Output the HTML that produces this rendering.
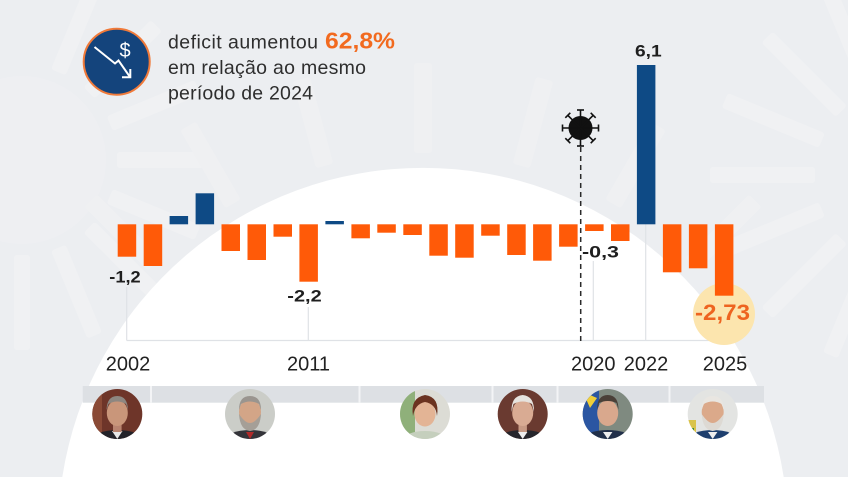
<!DOCTYPE html>
<html><head><meta charset="utf-8">
<style>
html,body{margin:0;padding:0;background:#eceef1;}
body{width:848px;height:477px;overflow:hidden;}
svg{display:block;overflow:hidden;}
text{font-family:"Liberation Sans",sans-serif;}
</style></head>
<body>
<svg width="848" height="477" viewBox="0 0 848 477" xmlns="http://www.w3.org/2000/svg">
<defs>
<clipPath id="c1"><circle cx="117.3" cy="414" r="25"/></clipPath>
<clipPath id="c2"><circle cx="250" cy="414" r="25"/></clipPath>
<clipPath id="c3"><circle cx="425" cy="414" r="25"/></clipPath>
<clipPath id="c4"><circle cx="522.7" cy="414" r="25"/></clipPath>
<clipPath id="c5"><circle cx="607.7" cy="414" r="25"/></clipPath>
<clipPath id="c6"><circle cx="712.7" cy="414" r="25"/></clipPath>
</defs>
<rect x="0" y="0" width="848" height="477" fill="#eceef1"/>

<!-- left sun -->
<g fill="#f0f1f3">
<circle cx="22" cy="160" r="84" fill="#eeeff2"/>
<g transform="translate(22 160)">
<rect x="95" y="-8" width="95" height="16" rx="3" transform="rotate(0)"/>
<rect x="95" y="-8" width="95" height="16" rx="3" transform="rotate(22.5)"/>
<rect x="95" y="-8" width="95" height="16" rx="3" transform="rotate(45)"/>
<rect x="95" y="-8" width="95" height="16" rx="3" transform="rotate(67.5)"/>
<rect x="95" y="-8" width="95" height="16" rx="3" transform="rotate(90)"/>
<rect x="95" y="-8" width="95" height="16" rx="3" transform="rotate(112.5)"/>
<rect x="95" y="-8" width="95" height="16" rx="3" transform="rotate(-22.5)"/>
<rect x="95" y="-8" width="95" height="16" rx="3" transform="rotate(-45)"/>
<rect x="95" y="-8" width="95" height="16" rx="3" transform="rotate(-67.5)"/>
</g>
</g>
<!-- right sun -->
<g fill="#f0f1f3" transform="translate(905 175)">
<rect x="90" y="-8" width="105" height="16" rx="3" transform="rotate(180)"/>
<rect x="90" y="-8" width="105" height="16" rx="3" transform="rotate(157.5)"/>
<rect x="90" y="-8" width="105" height="16" rx="3" transform="rotate(135)"/>
<rect x="90" y="-8" width="105" height="16" rx="3" transform="rotate(112.5)"/>
<rect x="90" y="-8" width="105" height="16" rx="3" transform="rotate(202.5)"/>
<rect x="90" y="-8" width="105" height="16" rx="3" transform="rotate(225)"/>
<rect x="90" y="-8" width="105" height="16" rx="3" transform="rotate(247.5)"/>
</g>
<!-- big sun rays -->
<g fill="#eff0f2" transform="translate(423 533)">
<rect x="380" y="-9" width="90" height="18" rx="3" transform="rotate(-90)"/>
<rect x="380" y="-9" width="90" height="18" rx="3" transform="rotate(-75)"/>
<rect x="380" y="-9" width="90" height="18" rx="3" transform="rotate(-105)"/>
<rect x="380" y="-9" width="90" height="18" rx="3" transform="rotate(-60)"/>
<rect x="380" y="-9" width="90" height="18" rx="3" transform="rotate(-120)"/>
<rect x="380" y="-9" width="90" height="18" rx="3" transform="rotate(-45)"/>
<rect x="380" y="-9" width="90" height="18" rx="3" transform="rotate(-135)"/>
</g>

<!-- white semicircle (clipped to frame) -->
<path d="M62.3 477 A365 365 0 0 1 783.7 477 Z" fill="#ffffff"/>

<!-- header icon -->
<circle cx="116.7" cy="61.7" r="33" fill="#14447c" stroke="#f07a3a" stroke-width="2"/>
<text x="125" y="57" font-size="20" fill="#ffffff" text-anchor="middle">$</text>
<polyline points="94.5,47 115,63.5 118.5,60.5 130,77" fill="none" stroke="#ffffff" stroke-width="2" stroke-linejoin="miter"/>
<polyline points="122,77.3 130.3,77.3 130.3,69" fill="none" stroke="#ffffff" stroke-width="2"/>

<!-- header text -->
<text x="168" y="48.3" font-size="19.5" fill="#2e2e2e" textLength="150" lengthAdjust="spacing">deficit aumentou</text>
<text x="325" y="48.3" font-size="23" font-weight="bold" fill="#f26a1f" textLength="70" lengthAdjust="spacingAndGlyphs">62,8%</text>
<text x="168" y="73.8" font-size="19.5" fill="#2e2e2e" textLength="198" lengthAdjust="spacing">em relação ao mesmo</text>
<text x="168" y="99.5" font-size="19.5" fill="#2e2e2e" textLength="145" lengthAdjust="spacing">período de 2024</text>

<!-- grid lines -->
<g stroke="#dfe2e6" stroke-width="1.2" fill="none">
<line x1="126.7" y1="287" x2="126.7" y2="340.5"/>
<line x1="308.3" y1="307" x2="308.3" y2="340.5"/>
<line x1="593.3" y1="261" x2="593.3" y2="340.5"/>
<line x1="645.7" y1="224" x2="645.7" y2="340.5"/>
<line x1="126.7" y1="340.5" x2="724" y2="340.5"/>
</g>

<!-- yellow highlight -->
<circle cx="724" cy="314" r="31" fill="#fce5ae"/>

<!-- bars -->
<g fill="#ff5a08">
<rect x="117.7" y="224.3" width="18.5" height="32.4"/>
<rect x="143.7" y="224.3" width="18.5" height="41.7"/>
<rect x="221.5" y="224.3" width="18.5" height="26.7"/>
<rect x="247.5" y="224.3" width="18.5" height="35.7"/>
<rect x="273.5" y="224.3" width="18.5" height="12.4"/>
<rect x="299.4" y="224.3" width="18.5" height="57.4"/>
<rect x="351.4" y="224.3" width="18.5" height="14"/>
<rect x="377.3" y="224.3" width="18.5" height="8.4"/>
<rect x="403.3" y="224.3" width="18.5" height="10.7"/>
<rect x="429.3" y="224.3" width="18.5" height="31.4"/>
<rect x="455.2" y="224.3" width="18.5" height="33.4"/>
<rect x="481.2" y="224.3" width="18.5" height="11.4"/>
<rect x="507.2" y="224.3" width="18.5" height="30.7"/>
<rect x="533.1" y="224.3" width="18.5" height="36.4"/>
<rect x="559.1" y="224.3" width="18.5" height="22.4"/>
<rect x="585.1" y="224.3" width="18.5" height="6.7"/>
<rect x="611.0" y="224.3" width="18.5" height="16.7"/>
<rect x="662.9" y="224.3" width="18.5" height="48"/>
<rect x="688.9" y="224.3" width="18.5" height="44"/>
<rect x="714.9" y="224.3" width="18.5" height="71.4"/>
</g>
<g fill="#0e4a85">
<rect x="169.6" y="216" width="18.5" height="8.3"/>
<rect x="195.6" y="193.3" width="18.5" height="31"/>
<rect x="325.4" y="221" width="18.5" height="3.3"/>
<rect x="636.9" y="65" width="18.5" height="159.3"/>
</g>

<!-- dashed covid line -->
<line x1="580.7" y1="147" x2="580.7" y2="342" stroke="#2a2a2a" stroke-width="1.5" stroke-dasharray="5 4"/>
<!-- virus -->
<g fill="#111" stroke="#111">
<circle cx="580.5" cy="128" r="12" stroke="none"/>
<g stroke-width="1.6">
<line x1="580.5" y1="128" x2="580.5" y2="110"/><line x1="577" y1="110" x2="584" y2="110"/>
<line x1="580.5" y1="128" x2="580.5" y2="146"/><line x1="577" y1="146" x2="584" y2="146"/>
<line x1="580.5" y1="128" x2="562.5" y2="128"/><line x1="562.5" y1="124.5" x2="562.5" y2="131.5"/>
<line x1="580.5" y1="128" x2="598.5" y2="128"/><line x1="598.5" y1="124.5" x2="598.5" y2="131.5"/>
<line x1="580.5" y1="128" x2="567.8" y2="115.3"/><line x1="565.3" y1="117.8" x2="570.3" y2="112.8"/>
<line x1="580.5" y1="128" x2="593.2" y2="115.3"/><line x1="590.7" y1="112.8" x2="595.7" y2="117.8"/>
<line x1="580.5" y1="128" x2="567.8" y2="140.7"/><line x1="565.3" y1="138.2" x2="570.3" y2="143.2"/>
<line x1="580.5" y1="128" x2="593.2" y2="140.7"/><line x1="590.7" y1="143.2" x2="595.7" y2="138.2"/>
</g>
</g>

<!-- value labels -->
<g font-weight="bold" fill="#1f1f1f">
<text x="109.3" y="282.5" font-size="16.5" textLength="31.4" lengthAdjust="spacingAndGlyphs">-1,2</text>
<text x="287.3" y="301.7" font-size="16.5" textLength="34.4" lengthAdjust="spacingAndGlyphs">-2,2</text>
<text x="582" y="257.5" font-size="16.5" textLength="37" lengthAdjust="spacingAndGlyphs">-0,3</text>
<text x="635" y="56.7" font-size="16.5" textLength="26.7" lengthAdjust="spacingAndGlyphs">6,1</text>
</g>
<text x="695" y="320" font-size="22" font-weight="bold" fill="#ee6420" textLength="55" lengthAdjust="spacingAndGlyphs">-2,73</text>

<!-- year labels -->
<g font-size="20" fill="#222" text-anchor="middle">
<text x="128" y="370.5">2002</text>
<text x="308.5" y="370.5">2011</text>
<text x="593.3" y="370.5">2020</text>
<text x="646" y="370.5">2022</text>
<text x="725" y="370.5">2025</text>
</g>

<!-- timeline band -->
<rect x="82.7" y="386" width="681.3" height="16.7" fill="#dde0e4"/>
<g fill="#f3f4f6">
<rect x="150" y="386" width="2" height="16.7"/>
<rect x="358.5" y="386" width="2" height="16.7"/>
<rect x="491.5" y="386" width="2" height="16.7"/>
<rect x="556.5" y="386" width="2" height="16.7"/>
<rect x="668.5" y="386" width="2" height="16.7"/>
</g>

<!-- faces -->
<g clip-path="url(#c1)">
<rect x="92" y="389" width="51" height="50" fill="#6e3529"/>
<rect x="92" y="389" width="10" height="50" fill="#8a4a36"/>
<ellipse cx="117.3" cy="440" rx="25" ry="10" fill="#23232a"/>
<path d="M112 431 L117.3 439 L122.5 431 Z" fill="#e8e8e8"/>
<rect x="113" y="424" width="8.6" height="8" fill="#b98470"/>
<ellipse cx="117.3" cy="413" rx="10.5" ry="13" fill="#c9967a"/>
<path d="M106.5 410 Q107 396 117.3 396 Q127.5 396 128 410 L126 404 Q117 399 108.5 404 Z" fill="#8d8781"/>
</g>
<g clip-path="url(#c2)">
<rect x="225" y="389" width="50" height="50" fill="#cbcdc8"/>
<ellipse cx="250" cy="440" rx="25" ry="10" fill="#34343a"/>
<path d="M246 432 L250 439 L254 432 Z" fill="#b02a2a"/>
<ellipse cx="250" cy="412" rx="11" ry="13" fill="#d3a587"/>
<path d="M239 414 Q240 430 250 431 Q260 430 261 414 Q255 423 250 423 Q245 423 239 414 Z" fill="#a59f97"/>
<path d="M239 410 Q239 396 250 396 Q261 396 261 410 L259 404 Q250 399 241 404 Z" fill="#9a958f"/>
<rect x="225" y="430" width="6" height="9" fill="#3e8a3c"/>
</g>
<g clip-path="url(#c3)">
<rect x="400" y="389" width="50" height="50" fill="#dcdcd5"/>
<rect x="400" y="389" width="15" height="50" fill="#8fb07a"/>
<ellipse cx="425" cy="440" rx="22" ry="9" fill="#c5cfbd"/>
<ellipse cx="425" cy="414" rx="10.5" ry="12.5" fill="#e3b495"/>
<path d="M413 416 Q410 398 425 395 Q440 397 437 416 Q436 404 425 402 Q415 404 413 416 Z" fill="#6b3320"/>
</g>
<g clip-path="url(#c4)">
<rect x="497" y="389" width="51" height="50" fill="#6a3a30"/>
<ellipse cx="522.7" cy="440" rx="25" ry="10" fill="#26262c"/>
<path d="M518 432 L522.7 439 L527.4 432 Z" fill="#eeeeee"/>
<rect x="518.5" y="424" width="8.4" height="8" fill="#c89a84"/>
<ellipse cx="522.7" cy="413" rx="10.5" ry="13" fill="#d9ab93"/>
<path d="M511.5 412 Q511 396 522.7 395 Q534.5 396 534 412 L532 404 Q522.7 399 513.5 404 Z" fill="#e6e3de"/>
</g>
<g clip-path="url(#c5)">
<rect x="582" y="389" width="51" height="50" fill="#7f8a80"/>
<rect x="582" y="389" width="17" height="50" fill="#2b56a2"/>
<path d="M583 392 L597 398 L590 408 Z" fill="#f0cf3a"/>
<path d="M583 428 L594 436 L586 439 Z" fill="#3d9a4a"/>
<ellipse cx="607.7" cy="440" rx="25" ry="10" fill="#22304a"/>
<path d="M603 432 L607.7 439 L612.4 432 Z" fill="#eeeeee"/>
<ellipse cx="607.7" cy="413" rx="10.5" ry="13" fill="#d9a88d"/>
<path d="M597 410 Q597 395 607.7 395 Q618.5 395 618.5 410 L616.5 403 Q607.7 399 599 403 Z" fill="#4a4038"/>
</g>
<g clip-path="url(#c6)">
<rect x="687" y="389" width="51" height="50" fill="#e3e4e2"/>
<rect x="687" y="420" width="9" height="19" fill="#d9c34a"/>
<rect x="687" y="428" width="7" height="11" fill="#3e8a3c"/>
<ellipse cx="712.7" cy="440" rx="25" ry="10" fill="#1e3f6e"/>
<path d="M708 432 L712.7 439 L717.4 432 Z" fill="#eeeeee"/>
<ellipse cx="712.7" cy="412" rx="11" ry="13" fill="#dba98a"/>
<path d="M701.7 414 Q702.7 430 712.7 431 Q722.7 430 723.7 414 Q717.7 423 712.7 423 Q707.7 423 701.7 414 Z" fill="#ddd9d3"/>
<path d="M701.7 410 Q701.7 396 712.7 396 Q723.7 396 723.7 410 L721.7 404 Q712.7 399 703.7 404 Z" fill="#e9e6e1"/>
</g>
</svg>
</body></html>
